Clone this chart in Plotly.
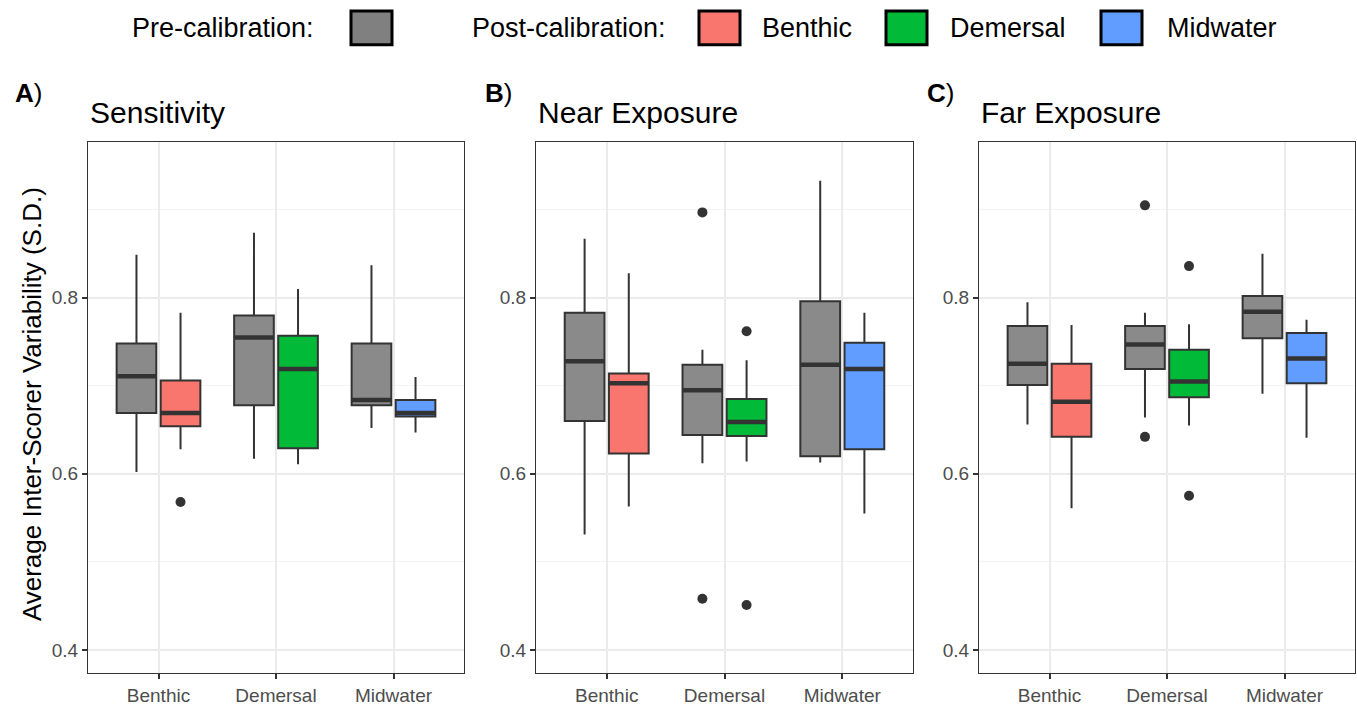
import plotly.graph_objects as go

# ---------------- data ----------------
categories = ["Benthic", "Demersal", "Midwater"]
panel_titles = ["Sensitivity", "Near Exposure", "Far Exposure"]
panel_letters = ["A", "B", "C"]
y_ticks = [0.4, 0.6, 0.8]
y_minor = [0.5, 0.7, 0.9]

# Sensitivity
sens_pre_low = [0.602, 0.617, 0.652]
sens_pre_q1 = [0.669, 0.678, 0.678]
sens_pre_med = [0.711, 0.755, 0.684]
sens_pre_q3 = [0.748, 0.780, 0.748]
sens_pre_up = [0.849, 0.874, 0.837]
sens_post_low = [0.628, 0.611, 0.647]
sens_post_q1 = [0.654, 0.629, 0.665]
sens_post_med = [0.669, 0.719, 0.669]
sens_post_q3 = [0.706, 0.757, 0.684]
sens_post_up = [0.783, 0.810, 0.710]
sens_pre_out_cat = []
sens_pre_out_val = []
sens_post_out_cat = ["Benthic"]
sens_post_out_val = [0.568]

# Near Exposure
near_pre_low = [0.531, 0.612, 0.613]
near_pre_q1 = [0.660, 0.644, 0.620]
near_pre_med = [0.728, 0.695, 0.724]
near_pre_q3 = [0.783, 0.724, 0.796]
near_pre_up = [0.867, 0.741, 0.933]
near_post_low = [0.563, 0.614, 0.555]
near_post_q1 = [0.623, 0.643, 0.628]
near_post_med = [0.703, 0.659, 0.719]
near_post_q3 = [0.714, 0.685, 0.749]
near_post_up = [0.828, 0.729, 0.783]
near_pre_out_cat = ["Demersal", "Demersal"]
near_pre_out_val = [0.897, 0.458]
near_post_out_cat = ["Demersal", "Demersal"]
near_post_out_val = [0.762, 0.451]

# Far Exposure
far_pre_low = [0.656, 0.664, 0.691]
far_pre_q1 = [0.701, 0.719, 0.754]
far_pre_med = [0.725, 0.747, 0.784]
far_pre_q3 = [0.768, 0.768, 0.802]
far_pre_up = [0.795, 0.783, 0.850]
far_post_low = [0.561, 0.655, 0.641]
far_post_q1 = [0.642, 0.687, 0.703]
far_post_med = [0.682, 0.705, 0.731]
far_post_q3 = [0.725, 0.741, 0.760]
far_post_up = [0.769, 0.770, 0.775]
far_pre_out_cat = ["Demersal", "Demersal"]
far_pre_out_val = [0.905, 0.642]
far_post_out_cat = ["Demersal", "Demersal"]
far_post_out_val = [0.836, 0.575]

# ---------------- styling ----------------
W, H = 1357, 706
PRE_COLOR = "#8A8A8A"
LEGEND_PRE = "#808080"
POST_COLORS = {"Benthic": "#F8766D", "Demersal": "#00BA38", "Midwater": "#619CFF"}
LINE = "#333333"
FONT = "Liberation Sans, Arial, sans-serif"
DODGE = 0.1875
BOXW = 0.3375

panel_px = [(88, 464), (536, 913), (979, 1355)]
top_px, bot_px = 143, 678

panels = [
    dict(pre=(sens_pre_low, sens_pre_q1, sens_pre_med, sens_pre_q3, sens_pre_up),
         post=(sens_post_low, sens_post_q1, sens_post_med, sens_post_q3, sens_post_up),
         pre_out=(sens_pre_out_cat, sens_pre_out_val),
         post_out=(sens_post_out_cat, sens_post_out_val)),
    dict(pre=(near_pre_low, near_pre_q1, near_pre_med, near_pre_q3, near_pre_up),
         post=(near_post_low, near_post_q1, near_post_med, near_post_q3, near_post_up),
         pre_out=(near_pre_out_cat, near_pre_out_val),
         post_out=(near_post_out_cat, near_post_out_val)),
    dict(pre=(far_pre_low, far_pre_q1, far_pre_med, far_pre_q3, far_pre_up),
         post=(far_post_low, far_post_q1, far_post_med, far_post_q3, far_post_up),
         pre_out=(far_pre_out_cat, far_pre_out_val),
         post_out=(far_post_out_cat, far_post_out_val)),
]

fig = go.Figure()


def box(xa, ya, pos, low, q1, med, q3, up, color):
    fig.add_trace(go.Box(
        x=pos, q1=q1, median=med, q3=q3, lowerfence=low, upperfence=up,
        width=BOXW, whiskerwidth=0, fillcolor=color,
        line=dict(color=LINE, width=2), xaxis=xa, yaxis=ya,
        showlegend=False, hoverinfo="skip"))
    mx, my = [], []
    for p, m in zip(pos, med):
        mx += [p - BOXW / 2, p + BOXW / 2, None]
        my += [m, m, None]
    fig.add_trace(go.Scatter(x=mx, y=my, mode="lines",
                             line=dict(color=LINE, width=4.5),
                             xaxis=xa, yaxis=ya, showlegend=False, hoverinfo="skip"))


def outliers(xa, ya, cats, vals, off):
    if not cats:
        return
    fig.add_trace(go.Scatter(
        x=[categories.index(c) + off for c in cats], y=vals, mode="markers",
        marker=dict(color=LINE, size=10), xaxis=xa, yaxis=ya,
        showlegend=False, hoverinfo="skip"))


for i, pdata in enumerate(panels):
    sfx = "" if i == 0 else str(i + 1)
    xa, ya = "x" + sfx, "y" + sfx
    low, q1, med, q3, up = pdata["pre"]
    box(xa, ya, [k - DODGE for k in range(3)], low, q1, med, q3, up, PRE_COLOR)
    low, q1, med, q3, up = pdata["post"]
    for k, c in enumerate(categories):
        box(xa, ya, [k + DODGE], [low[k]], [q1[k]], [med[k]], [q3[k]], [up[k]], POST_COLORS[c])
    outliers(xa, ya, *pdata["pre_out"], -DODGE)
    outliers(xa, ya, *pdata["post_out"], DODGE)

    x0, x1 = panel_px[i]
    fig.layout["xaxis" + sfx] = dict(
        domain=[x0 / W, x1 / W], anchor=ya, range=[-0.6, 2.6],
        tickmode="array", tickvals=[0, 1, 2], ticktext=categories,
        showgrid=True, gridcolor="#EBEBEB", gridwidth=1.5, zeroline=False,
        showline=True, mirror=True, linecolor=LINE, linewidth=1.2,
        ticks="outside", ticklen=5, tickwidth=1.5, tickcolor=LINE,
        tickfont=dict(family=FONT, size=19, color="#4D4D4D"), fixedrange=True)
    fig.layout["yaxis" + sfx] = dict(
        domain=[1 - bot_px / H, 1 - top_px / H], anchor=xa, range=[0.3735, 0.977],
        tickmode="array", tickvals=y_ticks, ticktext=[f"{v:.1f}" for v in y_ticks],
        showgrid=True, gridcolor="#EBEBEB", gridwidth=1.5, zeroline=False,
        minor=dict(tickvals=y_minor, showgrid=True, gridcolor="#F4F4F4", gridwidth=1, ticks=""),
        showline=True, mirror=True, linecolor=LINE, linewidth=1.2,
        ticks="outside", ticklen=5, tickwidth=1.5, tickcolor=LINE,
        tickfont=dict(family=FONT, size=19, color="#4D4D4D"), fixedrange=True)

    # panel title and letter
    fig.add_annotation(x=x0 / W, y=1 - 113 / H, xref="paper", yref="paper",
                       text=panel_titles[i], showarrow=False, xanchor="left", yanchor="middle",
                       font=dict(family=FONT, size=30, color="black"))
    letter_x = [13, 483, 925][i]
    fig.add_annotation(x=letter_x / W, y=1 - 94 / H, xref="paper", yref="paper",
                       text=f"<b>{panel_letters[i]}</b>)", showarrow=False,
                       xanchor="left", yanchor="middle",
                       font=dict(family=FONT, size=26, color="black"))

# y axis title
fig.add_annotation(x=32 / W, y=1 - 407 / H, xref="paper", yref="paper",
                   text="Average Inter-Scorer Variability (S.D.)", textangle=-90,
                   showarrow=False, xanchor="center", yanchor="middle",
                   font=dict(family=FONT, size=26, color="black"))

# custom legend
legend_y = 28
LEG_SIZE = 27
fig.add_annotation(x=316 / W, y=1 - legend_y / H, xref="paper", yref="paper",
                   text="Pre-calibration:", showarrow=False, xanchor="right", yanchor="middle",
                   font=dict(family=FONT, size=LEG_SIZE, color="black"))
fig.add_annotation(x=668 / W, y=1 - legend_y / H, xref="paper", yref="paper",
                   text="Post-calibration:", showarrow=False, xanchor="right", yanchor="middle",
                   font=dict(family=FONT, size=LEG_SIZE, color="black"))
legend_items = [(351, LEGEND_PRE, None, None),
                (699, POST_COLORS["Benthic"], "Benthic", 760),
                (886, POST_COLORS["Demersal"], "Demersal", 948),
                (1101, POST_COLORS["Midwater"], "Midwater", 1165)]
for sx, col, lab, tx in legend_items:
    fig.add_shape(type="rect", xref="paper", yref="paper",
                  x0=sx / W, x1=(sx + 41) / W, y0=1 - 45 / H, y1=1 - 11 / H,
                  fillcolor=col, line=dict(color="black", width=3))
    if lab:
        fig.add_annotation(x=tx / W, y=1 - legend_y / H, xref="paper", yref="paper",
                           text=lab, showarrow=False, xanchor="left", yanchor="middle",
                           font=dict(family=FONT, size=LEG_SIZE, color="black"))

fig.update_layout(width=W, height=H, margin=dict(l=0, r=0, t=0, b=0),
                  paper_bgcolor="white", plot_bgcolor="white", showlegend=False,
                  font=dict(family=FONT))

fig.write_html("out.html", config={"displayModeBar": False},
               post_script="document.body.style.margin='0';document.body.style.overflow='hidden';")
